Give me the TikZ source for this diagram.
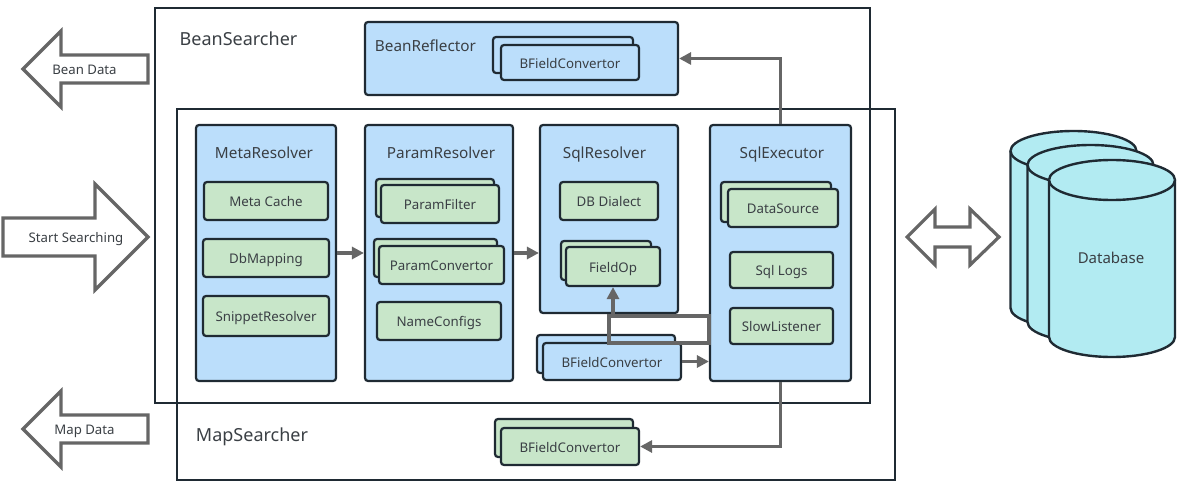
\documentclass[tikz,border=0pt]{standalone}
\usepackage{fontspec}
\setmainfont{Noto Sans}
\usetikzlibrary{arrows.meta}

\definecolor{edgedark}{HTML}{1F2A33}
\definecolor{flowgrey}{HTML}{666666}
\definecolor{textdark}{HTML}{3A3F44}
\definecolor{blockblue}{HTML}{BBDEFB}
\definecolor{itemgreen}{HTML}{C8E6C9}
\definecolor{drumcyan}{HTML}{B2EBF2}

\tikzset{
    outerbox/.style={draw=edgedark, line width=2.2},
    labelfix/.style={text height=12, text depth=0.5},
    blockbox/.style={draw=edgedark, line width=2.2, fill=blockblue, rounded corners=3, inner sep=0, labelfix, text=textdark, font=\fontsize{13.3}{15}\selectfont},
    itembox/.style={draw=edgedark, line width=2.2, fill=itemgreen, rounded corners=3, inner sep=0, labelfix, text=textdark, font=\fontsize{13.3}{15}\selectfont},
    flowline/.style={draw=flowgrey, line width=3.4},
    flowarrow/.style={flowline, -{Triangle[length=12,width=12]}},
    bigarrow/.style={draw=flowgrey, line width=3.2, fill=white, line join=miter},
    bigtext/.style={text=textdark, inner sep=0, labelfix, font=\fontsize{13.2}{15}\selectfont},
    titletext/.style={text=textdark, inner sep=0, labelfix, font=\fontsize{15.3}{17}\selectfont},
    headtext/.style={text=textdark, inner sep=0, labelfix, font=\fontsize{18}{20}\selectfont},
    drumbox/.style={draw=edgedark, line width=2.4, fill=drumcyan}
}

% one drum of the database, #1 #2 = centre of the top ellipse
\newcommand{\dbdrum}[2]{
    \begin{scope}[shift={(#1,#2)}]
        \draw[drumbox] (-63,0) -- (-63,157) arc (180:360:63pt and 20pt) -- (63,0) arc (0:180:63pt and 20pt) -- cycle;
        \draw[drumbox] (-63,0) arc (180:360:63pt and 20pt);
    \end{scope}
}

\begin{document}
\begin{tikzpicture}[x=1pt,y=-1pt]
        \useasboundingbox (0,0) rectangle (1182,489);

        % Outer frames
        \draw[outerbox] (155,8) rectangle (870,403);
        \draw[outerbox] (177,109) rectangle (895,480);
        \node[headtext] (beanTitle) at (238.5,39.5) {BeanSearcher};
        \node[headtext] (mapTitle) at (252,435.5) {MapSearcher};

        % Top row
        \node[blockbox, minimum width=313, minimum height=73] (beanReflector) at (521.5,58.5) {};
        \node[titletext] (reflectorTitle) at (425.5,46) {BeanReflector};
        \node[blockbox, minimum width=140, minimum height=36] (reflectConvBack) at (563,55) {};
        \node[blockbox, minimum width=138, minimum height=35] (reflectConv) at (570,62.5) {BFieldConvertor};

        % MetaResolver
        \node[blockbox, minimum width=140, minimum height=256] (metaResolver) at (266,253) {};
        \node[titletext] (metaTitle) at (264,153) {MetaResolver};
        \node[itembox, minimum width=124, minimum height=38] (metaCache) at (266,201) {Meta Cache};
        \node[itembox, minimum width=126, minimum height=38] (dbMapping) at (266,258) {DbMapping};
        \node[itembox, minimum width=126, minimum height=40] (snippetResolver) at (266,316) {SnippetResolver};

        % ParamResolver
        \node[blockbox, minimum width=148, minimum height=256] (paramResolver) at (439,253) {};
        \node[titletext] (paramTitle) at (441,153) {ParamResolver};
        \node[itembox, minimum width=118, minimum height=38] (paramFilterBack) at (435,198) {};
        \node[itembox, minimum width=118, minimum height=38] (paramFilter) at (440,204) {ParamFilter};
        \node[itembox, minimum width=123, minimum height=38] (paramConvBack) at (435.5,258) {};
        \node[itembox, minimum width=125, minimum height=38] (paramConv) at (441.5,265) {ParamConvertor};
        \node[itembox, minimum width=124, minimum height=38] (nameConfigs) at (439,321) {NameConfigs};

        % SqlResolver
        \node[blockbox, minimum width=138, minimum height=188] (sqlResolver) at (609,219) {};
        \node[titletext] (sqlTitle) at (604.5,153) {SqlResolver};
        \node[itembox, minimum width=98, minimum height=38] (dbDialect) at (609,201) {DB Dialect};
        \node[itembox, minimum width=90, minimum height=39] (fieldOpBack) at (606,260.5) {};
        \node[itembox, minimum width=94, minimum height=39] (fieldOp) at (613,266.5) {FieldOp};

        % SqlExecutor
        \node[blockbox, minimum width=141, minimum height=256] (sqlExecutor) at (780.5,253) {};
        \node[titletext] (executorTitle) at (782,153) {SqlExecutor};
        \node[itembox, minimum width=110, minimum height=40] (dataSourceBack) at (776,202) {};
        \node[itembox, minimum width=110, minimum height=38] (dataSource) at (783,208) {DataSource};
        \node[itembox, minimum width=103, minimum height=36] (sqlLogs) at (781.5,270) {Sql Logs};
        \node[itembox, minimum width=103, minimum height=36] (slowListener) at (781.5,326) {SlowListener};

        % Convertors below
        \node[blockbox, minimum width=138, minimum height=38] (midConvBack) at (606,354) {};
        \node[blockbox, minimum width=138, minimum height=37] (midConv) at (612,361.5) {BFieldConvertor};
        \node[itembox, minimum width=138, minimum height=38] (mapConvBack) at (564,438) {};
        \node[itembox, minimum width=138, minimum height=37] (mapConv) at (570,446.5) {BFieldConvertor};

        % Flow
        \coordinate (loopUpper) at (609,316);
        \coordinate (loopLower) at (609,343);
        \draw[flowarrow] (metaResolver) -- (paramResolver);
        \draw[flowarrow] (paramResolver.east) -- (paramResolver.east -| sqlResolver.west);
        \draw[flowarrow] (midConv.east) -- (midConv.east -| sqlExecutor.west);
        \draw[flowarrow] (sqlExecutor.north) |- (beanReflector.east);
        \draw[flowarrow] (sqlExecutor.south) |- (mapConv.east);
        \draw[flowline] (sqlExecutor.west |- loopUpper) -- (loopUpper) -- (loopLower) -- (sqlExecutor.west |- loopLower) -- cycle;
        \draw[flowarrow] (fieldOp.south |- loopUpper) -- (fieldOp.south);

        % Big arrows
        \draw[bigarrow] (23,69) -- (61,31) -- (61,55) -- (148,55) -- (148,83) -- (61,83) -- (61,107) -- cycle;
        \node[bigtext] (beanData) at (84.5,69) {Bean Data};
        \draw[bigarrow] (3,218) -- (95,218) -- (95,184) -- (148,237) -- (95,290) -- (95,256) -- (3,256) -- cycle;
        \node[bigtext] (startSearching) at (76,237) {Start Searching};
        \draw[bigarrow] (23,429) -- (61,391) -- (61,415) -- (148,415) -- (148,443) -- (61,443) -- (61,467) -- cycle;
        \node[bigtext] (mapData) at (84.5,429) {Map Data};
        \draw[bigarrow] (907,237) -- (935,209) -- (935,227) -- (970,227) -- (970,209) -- (999,237) -- (970,265) -- (970,247) -- (935,247) -- (935,265) -- cycle;

        % Database
        \dbdrum{1073.5}{151}
        \dbdrum{1090.5}{165}
        \dbdrum{1112}{180}
        \node[bigtext, font=\fontsize{15}{17}\selectfont] (database) at (1111,258) {Database};
    \end{tikzpicture}
\end{document}
